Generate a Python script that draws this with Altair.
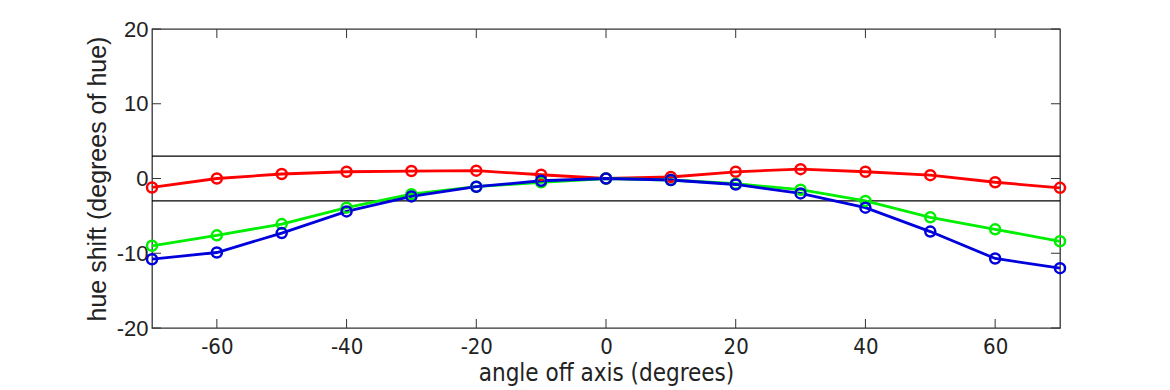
import altair as alt
import pandas as pd

angles = [-70, -60, -50, -40, -30, -20, -10, 0, 10, 20, 30, 40, 50, 60, 70]
red = [-1.2, 0.0, 0.6, 0.9, 1.0, 1.05, 0.5, 0.0, 0.2, 0.9, 1.25, 0.9, 0.45, -0.5, -1.25]
green = [-9.0, -7.6, -6.1, -3.9, -2.1, -1.1, -0.5, 0.0, -0.2, -0.7, -1.5, -3.0, -5.2, -6.8, -8.4]
blue = [-10.8, -9.9, -7.3, -4.4, -2.4, -1.1, -0.3, 0.0, -0.2, -0.8, -2.0, -3.9, -7.1, -10.7, -12.0]
series_names = ["red", "green", "blue"]
series_colors = ["#ff0000", "#00ee00", "#0000dd"]
limits = [3, -3]
x_ticks = [-60, -40, -20, 0, 20, 40, 60]
y_ticks = [-20, -10, 0, 10, 20]

rows = []
for name, vals in zip(series_names, [red, green, blue]):
    for a, v in zip(angles, vals):
        rows.append({"angle": a, "shift": v, "series": name})
df = pd.DataFrame(rows)

W, H = 908, 299
FONT = "Liberation Sans"
NARROW = "Liberation Sans Narrow, DejaVu Sans Condensed, Liberation Sans"

xs = alt.Scale(domain=[-70, 70], nice=False, zero=False)
ys = alt.Scale(domain=[-20, 20], nice=False, zero=False)

color = alt.Color("series:N", scale=alt.Scale(domain=series_names, range=series_colors), legend=None)

base = alt.Chart(df)

lines = base.mark_line(strokeWidth=2.8).encode(
    x=alt.X("angle:Q", scale=xs,
            axis=alt.Axis(values=x_ticks, title="angle off axis (degrees)", grid=False,
                          ticks=False, domain=False, labelFont=NARROW, labelFontSize=22,
                          labelExpr="toString(datum.value)",
                          labelColor="#222", titleFont=NARROW, titleFontSize=24,
                          titleFontWeight="normal", titleColor="#222",
                          labelPadding=8, titlePadding=4)),
    y=alt.Y("shift:Q", scale=ys,
            axis=alt.Axis(values=y_ticks, title="hue shift (degrees of hue)", grid=False,
                          ticks=False, domain=False, labelFont=FONT, labelFontSize=22,
                          labelExpr="toString(datum.value)",
                          labelColor="#222", titleFont=FONT, titleFontSize=25,
                          titleFontWeight="normal", titleColor="#222",
                          labelPadding=4, titlePadding=6)),
    color=color,
    detail="series:N",
)

pts = base.mark_point(shape="circle", filled=False, size=100, strokeWidth=2.5, opacity=1).encode(
    x=alt.X("angle:Q", scale=xs),
    y=alt.Y("shift:Q", scale=ys),
    color=color,
)

lim = alt.Chart(pd.DataFrame({"v": limits})).mark_rule(color="black", strokeWidth=1.3).encode(
    y=alt.Y("v:Q", scale=ys)
)

xt = alt.Chart(pd.DataFrame({"t": x_ticks})).mark_rule(color="#333", strokeWidth=1)
xt_bot = xt.encode(x=alt.X("t:Q", scale=xs), y=alt.value(H), y2=alt.value(H - 9))
xt_top = xt.encode(x=alt.X("t:Q", scale=xs), y=alt.value(0), y2=alt.value(9))
yt = alt.Chart(pd.DataFrame({"t": y_ticks})).mark_rule(color="#333", strokeWidth=1)
yt_left = yt.encode(y=alt.Y("t:Q", scale=ys), x=alt.value(0), x2=alt.value(9))
yt_right = yt.encode(y=alt.Y("t:Q", scale=ys), x=alt.value(W), x2=alt.value(W - 9))

chart = alt.layer(lim, xt_bot, xt_top, yt_left, yt_right, lines, pts).properties(
    width=W, height=H,
    autosize=alt.AutoSizeParams(type="none"),
    padding={"left": 144, "top": 21, "right": 100, "bottom": 60},
    background="white",
).configure_view(stroke="#333", strokeWidth=1.3)

chart.save("out.html", embed_options={"renderer": "svg", "actions": False})
